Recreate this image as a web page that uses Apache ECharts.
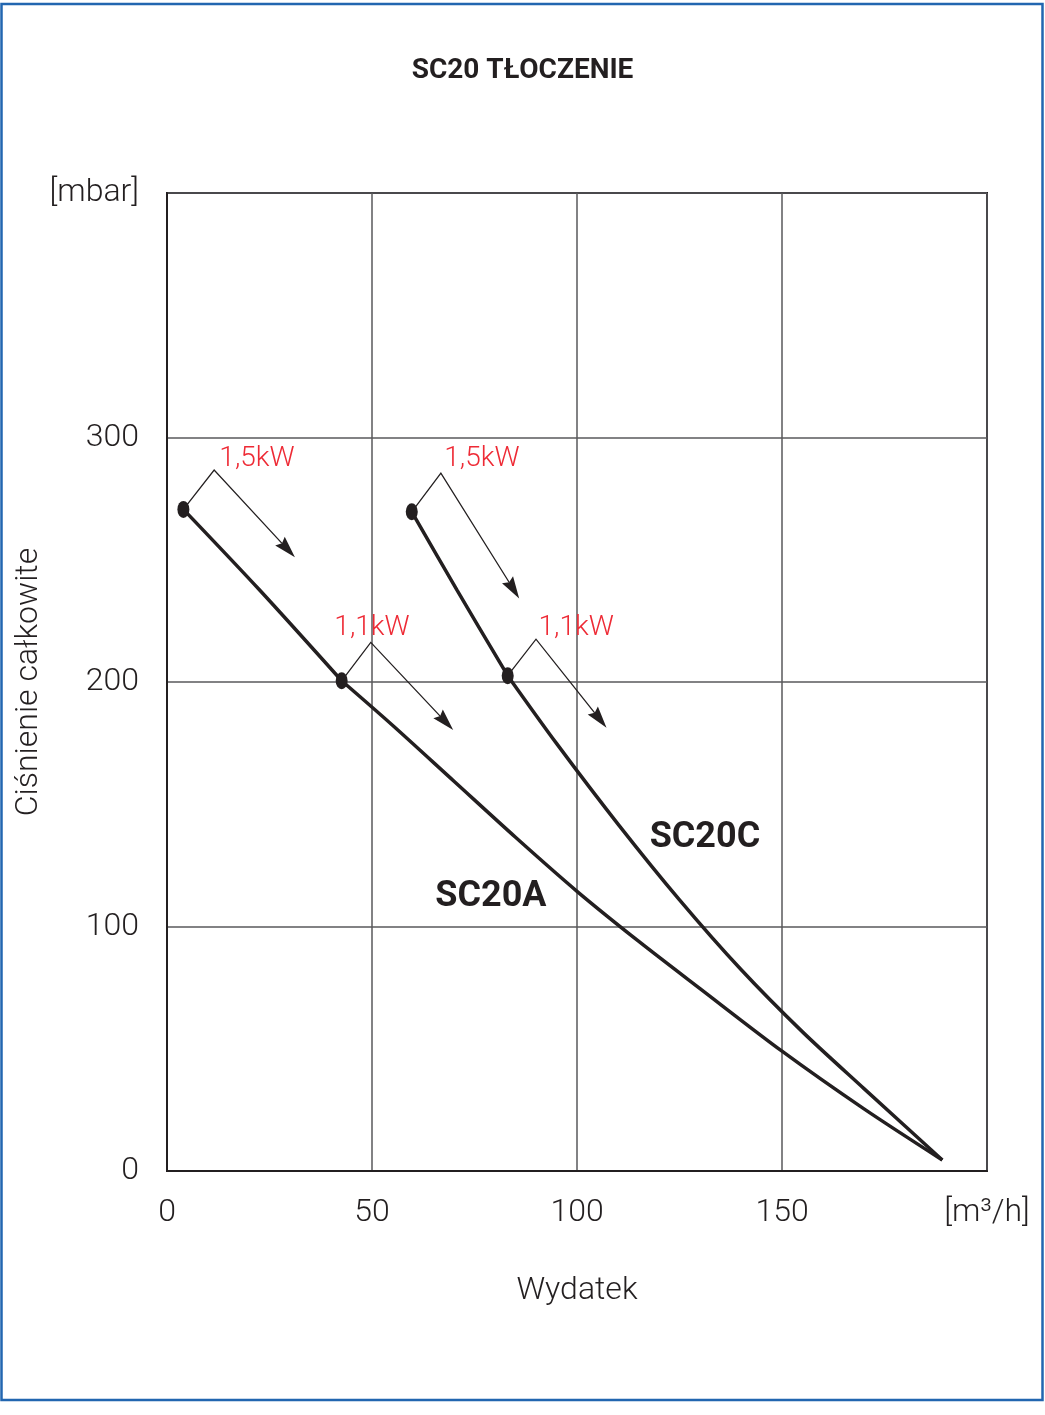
<!DOCTYPE html>
<html>
<head>
<meta charset="utf-8">
<title>SC20 TŁOCZENIE</title>
<script src="https://cdn.jsdelivr.net/npm/echarts@6.0.0/dist/echarts.min.js"></script>
<style>
  html, body { margin: 0; padding: 0; background: #fff; }
  #chart { width: 1045px; height: 1415px; }
</style>
</head>
<body>
<div id="chart"></div>
<script>
// axis ticks
var xTicks = [0, 50, 100, 150, 200];
var xTickLabels = ['0', '50', '100', '150', '[m³/h]'];
var yTicks = [0, 100, 200, 300, 400];
var yTickLabels = ['0', '100', '200', '300', '[mbar]'];

// curves, [Wydatek m3/h, Ciśnienie mbar]; split at the motor change point
var sc20aHigh = [[4.0, 270.6], [22.7, 237.4], [42.6, 200.5]];
var sc20aLow = [[42.6, 200.5], [55, 182.3], [70, 159.4], [85, 136.5], [100, 114.4], [115, 94.0],
  [130, 74.6], [150, 49], [170, 25.4], [189.1, 4.5]];
var sc20cHigh = [[59.7, 269.6], [70.7, 237.7], [83.1, 202.6]];
var sc20cLow = [[83.1, 202.6], [95, 174.9], [110, 141.9], [125, 110.9], [140, 82.4],
  [155, 56.9], [170, 33.7], [189.1, 4.5]];

// operating points (dots)
var powerPoints = [[4.0, 270.6], [42.6, 200.5], [59.7, 269.6], [83.1, 202.6]];

// leader arrows: start (dot), bend, arrow tip
var leaderArrows = [
  [4.0, 270.6, 11.5, 286.7, 31.2, 251.0],
  [42.6, 200.5, 49.7, 216.2, 69.8, 180.4],
  [59.7, 269.6, 66.8, 285.4, 85.9, 234.2],
  [83.1, 202.6, 90.0, 217.5, 107.2, 181.3]
];

// text labels
var powerLabels = ['1,5kW', '1,1kW', '1,5kW', '1,1kW'];
var powerLabelPos = [[21.95, 291.2], [50, 222.1], [76.8, 291.1], [99.8, 222.1]];
var curveNames = ['SC20A', 'SC20C'];
var curveNamePos = [[79.0, 112.1], [131.2, 136.2]];

var INK = '#231f20';
var RED = '#ee2a35';
var FONT = 'Roboto, "Noto Sans", sans-serif';

var chart = echarts.init(document.getElementById('chart'));

function renderLeader(params, api) {
  var p0 = api.coord([api.value(0), api.value(1)]);
  var p1 = api.coord([api.value(2), api.value(3)]);
  var p2 = api.coord([api.value(4), api.value(5)]);
  var dx = p2[0] - p1[0], dy = p2[1] - p1[1];
  var len = Math.sqrt(dx * dx + dy * dy);
  var ux = dx / len, uy = dy / len;
  var nx = -uy, ny = ux;
  var L = 22, W = 6.5, notch = 3;
  var bx = p2[0] - ux * L, by = p2[1] - uy * L;
  var mid = [p2[0] - ux * (L - notch), p2[1] - uy * (L - notch)];
  return {
    type: 'group',
    children: [{
      type: 'polyline',
      shape: { points: [p0, p1, mid] },
      style: { stroke: INK, lineWidth: 1.3, fill: null }
    }, {
      type: 'polygon',
      shape: { points: [p2, [bx + nx * W, by + ny * W], mid, [bx - nx * W, by - ny * W]] },
      style: { fill: INK }
    }]
  };
}

function curve(name, data) {
  return {
    name: name,
    type: 'line',
    data: data,
    smooth: 0.3,
    symbol: 'none',
    z: 3,
    lineStyle: { color: INK, width: 3.5 }
  };
}

function textSeries(name, texts, pos, size, weight, color) {
  return {
    name: name,
    type: 'scatter',
    symbolSize: 0,
    data: texts.map(function (t, i) { return { name: t, value: pos[i] }; }),
    itemStyle: { opacity: 1 },
    label: {
      show: true, position: 'inside', formatter: '{b}', opacity: 1,
      fontFamily: FONT, fontSize: size, fontWeight: weight, color: color
    },
    z: 6
  };
}

var option = {
  animation: false,
  backgroundColor: '#fff',
  title: {
    text: 'SC20 TŁOCZENIE',
    left: 'center',
    top: 52,
    textStyle: { fontFamily: FONT, fontSize: 28, fontWeight: 'bold', color: INK }
  },
  graphic: [{
    type: 'rect',
    shape: { x: 1.5, y: 4, width: 1041, height: 1396 },
    style: { fill: null, stroke: '#2266b0', lineWidth: 2.5 },
    silent: true
  }],
  grid: {
    left: 167, top: 193, width: 820, height: 978,
    show: true, borderColor: INK, borderWidth: 2, backgroundColor: 'transparent'
  },
  xAxis: {
    type: 'value', min: 0, max: 200, interval: 50,
    name: 'Wydatek', nameLocation: 'middle', nameGap: 104, nameMoveOverlap: false,
    nameTextStyle: { fontFamily: FONT, fontSize: 32, fontWeight: 300, color: INK },
    axisLine: { lineStyle: { color: INK, width: 2 } },
    axisTick: { show: false },
    axisLabel: {
      margin: 26, fontFamily: FONT, fontSize: 32, fontWeight: 300, color: INK,
      formatter: function (v) { return xTickLabels[xTicks.indexOf(v)]; }
    },
    splitLine: { lineStyle: { color: '#58595b', width: 1.5 } }
  },
  yAxis: {
    type: 'value', min: 0, max: 400, interval: 100,
    name: 'Ciśnienie całkowite', nameLocation: 'middle', nameGap: 122, nameRotate: 90,
    nameMoveOverlap: false,
    nameTextStyle: { fontFamily: FONT, fontSize: 32, fontWeight: 300, color: INK },
    axisLine: { lineStyle: { color: INK, width: 2 } },
    axisTick: { show: false },
    axisLabel: {
      margin: 28, fontFamily: FONT, fontSize: 32, fontWeight: 300, color: INK,
      formatter: function (v) { return yTickLabels[yTicks.indexOf(v)]; }
    },
    splitLine: { lineStyle: { color: '#58595b', width: 1.5 } }
  },
  series: [
    curve('SC20A', sc20aHigh),
    curve('SC20A', sc20aLow),
    curve('SC20C', sc20cHigh),
    curve('SC20C', sc20cLow),
    {
      name: 'leaders',
      type: 'custom',
      renderItem: renderLeader,
      data: leaderArrows,
      z: 4
    },
    {
      name: 'points',
      type: 'scatter',
      data: powerPoints,
      symbol: 'circle',
      symbolSize: [12, 17],
      itemStyle: { color: INK, opacity: 1 },
      z: 5
    },
    textSeries('power', powerLabels, powerLabelPos, 28, 300, RED),
    textSeries('names', curveNames, curveNamePos, 36, 'bold', INK)
  ]
};

chart.setOption(option);
</script>
</body>
</html>
